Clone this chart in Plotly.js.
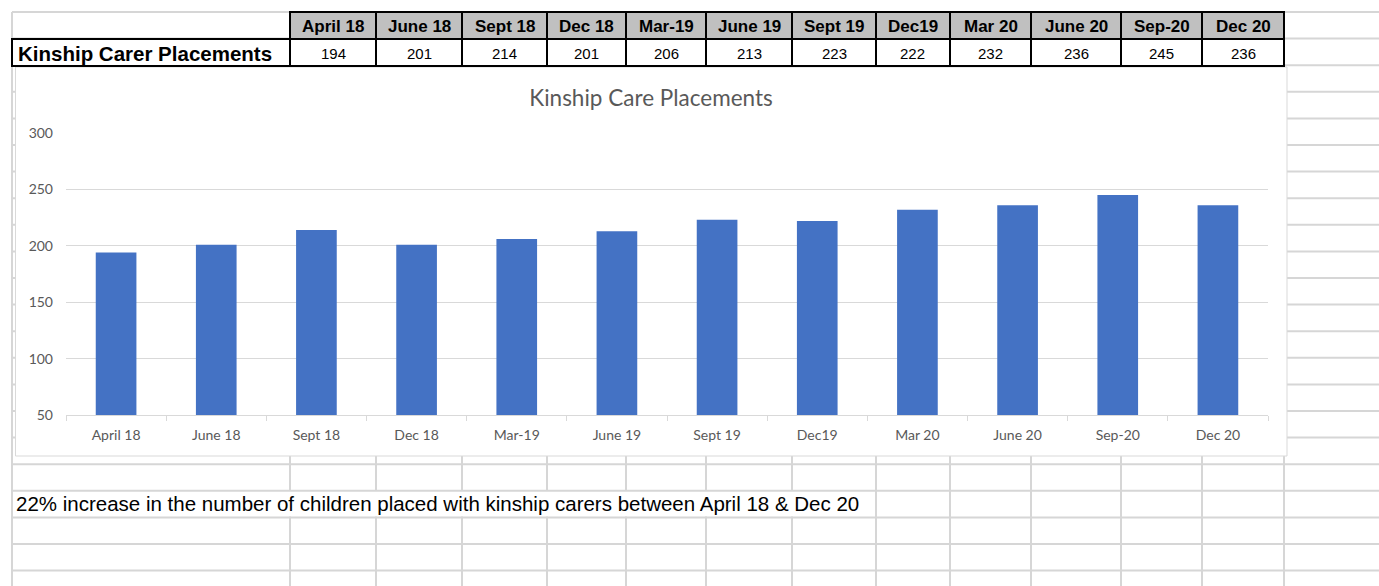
<!DOCTYPE html>
<html>
<head>
<meta charset="utf-8">
<script src="https://cdn.plot.ly/plotly-3.0.1.min.js"></script>
<style>html,body{margin:0;padding:0;background:#fff;}#chart{width:1379px;height:586px;}</style>
</head>
<body>
<div id="chart"></div>
<script>
// ---- data ----
const categories = ["April 18","June 18","Sept 18","Dec 18","Mar-19","June 19","Sept 19","Dec19","Mar 20","June 20","Sep-20","Dec 20"];
const tableHeaders = ["April 18","June 18","Sept 18","Dec 18","Mar-19","June 19","Sept 19","Dec19","Mar 20","June 20","Sep-20","Dec 20"];
const placements = [194,201,214,201,206,213,223,222,232,236,245,236];
const rowLabel = "Kinship Carer Placements";
const chartTitle = "Kinship Care Placements";
const noteText = "22% increase in the number of children placed with kinship carers between April 18 & Dec 20";
const yTicks = [50,100,150,200,250,300];

// ---- layout helpers (pixel -> paper) ----
const W = 1379, H = 586;
const X = p => p / W;
const Y = p => 1 - p / H;

// spreadsheet grid geometry
const colEdges = [12,290,376,462,547,626,706,792,876,950,1031,1121,1202,1284];
const rowH = 26.6;
const rows = [];
for (let k = 0; 12 + k*rowH < H; k++) rows.push(12 + k*rowH);
const gridColor = "#d6d6d6";
const shapes = [];
const annotations = [];
function line(x0,y0,x1,y1,c,w){shapes.push({type:"line",xref:"paper",yref:"paper",x0:X(x0),y0:Y(y0),x1:X(x1),y1:Y(y1),line:{color:c||gridColor,width:w||2},layer:"below"});}
function rect(x0,y0,x1,y1,fill,c,w){shapes.push({type:"rect",xref:"paper",yref:"paper",x0:X(x0),y0:Y(y1),x1:X(x1),y1:Y(y0),fillcolor:fill,line:{color:c,width:w},layer:"below"});}
// horizontal sheet lines
rows.forEach(r => line(12, r, W, r));
// vertical sheet lines (below chart)
line(12, 12, 12, H);
colEdges.slice(1).forEach(c => {
  if (c < 870) { line(c, 456, c, 490); line(c, 516.6, c, H); }
  else line(c, 456, c, H);
});
// chart frame (white) on top of sheet grid
rect(15.5, 67, 1287, 456, "#ffffff", "#d9d9d9", 1);

// ---- table (header row + data row) ----
const hdrTop = 12, hdrBot = 39, rowBot = 66;
const cellFont = "Liberation Sans, Arial, sans-serif";
tableHeaders.forEach((h, i) => {
  const x0 = colEdges[i+1], x1 = colEdges[i+2];
  rect(x0, hdrTop, x1, hdrBot, "#c0c0c0", "#000000", 2);
  annotations.push({xref:"paper",yref:"paper",x:X((x0+x1)/2),y:Y((hdrTop+hdrBot)/2+1),xanchor:"center",yanchor:"middle",
    text:"<b>"+h+"</b>",showarrow:false,font:{family:cellFont,size:17,color:"#000"}});
});
rect(colEdges[0], hdrBot, colEdges[1], rowBot, "#ffffff", "#000000", 2);
placements.forEach((v, i) => {
  const x0 = colEdges[i+1], x1 = colEdges[i+2];
  rect(x0, hdrBot, x1, rowBot, "#ffffff", "#000000", 2);
  annotations.push({xref:"paper",yref:"paper",x:X((x0+x1)/2),y:Y((hdrBot+rowBot)/2+1),xanchor:"center",yanchor:"middle",
    text:String(v),showarrow:false,font:{family:cellFont,size:15,color:"#000"}});
});
annotations.push({xref:"paper", yref:"paper", x:X(16), y:Y(53), xanchor:"left", yanchor:"middle",
  text:"<b>"+rowLabel+"</b>", showarrow:false, font:{family:cellFont, size:20.5, color:"#000"}});
annotations.push({xref:"paper", yref:"paper", x:X(14), y:Y(503), xanchor:"left", yanchor:"middle",
  text: noteText, showarrow:false, font:{family:cellFont, size:20.5, color:"#000"}});

const bars = {
  type:"bar",
  x: categories,
  y: placements,
  marker:{color:"#4472c4"},
  hoverinfo:"x+y"
};

const layout = {
  width: W, height: H,
  margin:{l:0,r:0,t:0,b:0},
  paper_bgcolor:"#ffffff",
  plot_bgcolor:"rgba(0,0,0,0)",
  showlegend:false,
  bargap: 0.594,
  font:{family:"Lato, Open Sans, sans-serif", color:"#595959"},
  title:{text: chartTitle, x: X(651), y: Y(98), xanchor:"center", yanchor:"middle", font:{family:"Lato, sans-serif", size:22.5, color:"#595959"}},
  xaxis:{
    domain:[X(66),X(1268)],
    type:"category",
    showline:true, linecolor:"#d9d9d9", linewidth:1,
    ticks:"outside", tickson:"boundaries", ticklen:5, tickcolor:"#d9d9d9",
    showgrid:false,
    tickfont:{size:14, color:"#595959"},
    ticklabelstandoff: 7,
    fixedrange:true
  },
  yaxis:{
    domain:[Y(415),Y(133)],
    range:[50,300],
    tickvals: yTicks,
    showline:false, ticks:"",
    gridcolor:"#d9d9d9", gridwidth:1,
    zeroline:false,
    tickfont:{size:14, color:"#595959"},
    ticklabelstandoff: 12,
    fixedrange:true
  },
  shapes: shapes,
  annotations: annotations
};

Plotly.newPlot("chart", [bars], layout, {displayModeBar:false, staticPlot:true});
</script>
</body>
</html>
